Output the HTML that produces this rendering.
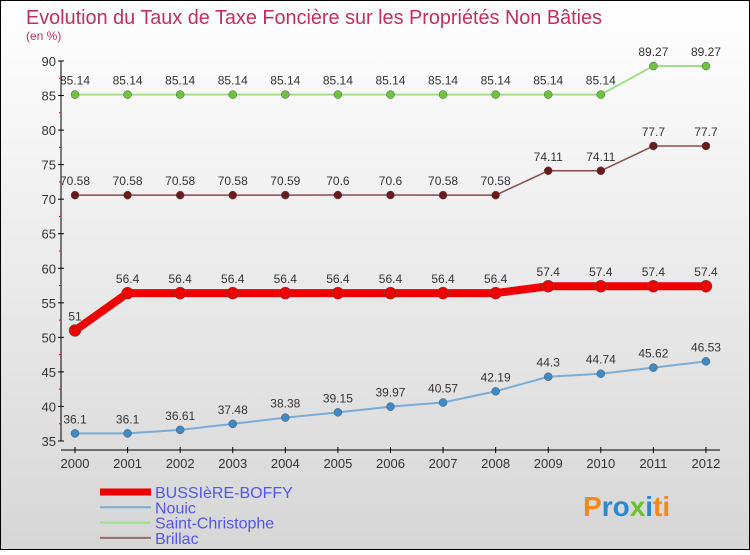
<!DOCTYPE html>
<html><head><meta charset="utf-8"><style>
body{margin:0;width:750px;height:550px;overflow:hidden;font-family:"Liberation Sans",sans-serif}
</style></head><body>
<svg width="750" height="550" xmlns="http://www.w3.org/2000/svg">
<defs><linearGradient id="bg" x1="0" y1="0" x2="0" y2="1"><stop offset="0" stop-color="#ffffff"/><stop offset="1" stop-color="#d6d6d6"/></linearGradient></defs>
<rect x="0.5" y="0.5" width="749" height="549" fill="url(#bg)" stroke="#000"/>
<text x="26" y="24" font-size="20" fill="#c0305a" textLength="576" lengthAdjust="spacingAndGlyphs">Evolution du Taux de Taxe Foncière sur les Propriétés Non Bâties</text>
<text x="26" y="40" font-size="12" fill="#c0305a">(en %)</text>
<g id="axes"></g><g id="series"></g><g id="legend"></g>
<text x="583" y="516" font-size="28" font-weight="bold"><tspan fill="#f08a1c">P</tspan><tspan fill="#2a8ad0">ro</tspan><tspan fill="#6cc02a">x</tspan><tspan fill="#2a8ad0">i</tspan><tspan fill="#f08a1c">ti</tspan></text>
</svg>
<script>
const years=[2000,2001,2002,2003,2004,2005,2006,2007,2008,2009,2010,2011,2012];
const yTicks=[35,40,45,50,55,60,65,70,75,80,85,90];
const bussiere=[51,56.4,56.4,56.4,56.4,56.4,56.4,56.4,56.4,57.4,57.4,57.4,57.4];
const nouic=[36.1,36.1,36.61,37.48,38.38,39.15,39.97,40.57,42.19,44.3,44.74,45.62,46.53];
const stchris=[85.14,85.14,85.14,85.14,85.14,85.14,85.14,85.14,85.14,85.14,85.14,89.27,89.27];
const brillac=[70.58,70.58,70.58,70.58,70.59,70.6,70.6,70.58,70.58,74.11,74.11,77.7,77.7];
const labels={b:["51","56.4","56.4","56.4","56.4","56.4","56.4","56.4","56.4","57.4","57.4","57.4","57.4"],
n:["36.1","36.1","36.61","37.48","38.38","39.15","39.97","40.57","42.19","44.3","44.74","45.62","46.53"],
s:["85.14","85.14","85.14","85.14","85.14","85.14","85.14","85.14","85.14","85.14","85.14","89.27","89.27"],
r:["70.58","70.58","70.58","70.58","70.59","70.6","70.6","70.58","70.58","74.11","74.11","77.7","77.7"]};
const NS="http://www.w3.org/2000/svg";
const xs=i=>75+i*52.58;
const ys=v=>441-(v-35)*(380/55);
function mk(t,a,p){const e=document.createElementNS(NS,t);for(const k in a)e.setAttribute(k,a[k]);p.appendChild(e);return e;}
const ax=document.getElementById('axes');
let l=mk('line',{x1:61,y1:61,x2:61,y2:441,stroke:'#000'},ax);


yTicks.forEach(v=>{const y=ys(v);
 mk('line',{x1:58,y1:y,x2:64,y2:y,stroke:'#000'},ax);
 const t=mk('text',{x:56,y:y+5,'font-size':13,fill:'#333','text-anchor':'end'},ax);t.textContent=v;
 
 
 if(v<90){const m=ys(v+2.5);mk('line',{x1:59,y1:m,x2:61,y2:m,stroke:'#f00'},ax);}
});
let xa=mk('line',{x1:61,y1:450,x2:720,y2:450,stroke:'#000'},ax);


years.forEach((yr,i)=>{const x=xs(i);
 mk('line',{x1:x,y1:447,x2:x,y2:453,stroke:'#000'},ax);
 const t=mk('text',{x:x,y:468,'font-size':13,fill:'#333','text-anchor':'middle'},ax);t.textContent=yr;
 
 
});
const sg=document.getElementById('series');
function series(vals,labs,color,w,dot,dr,name){
 const g=mk('g',{},sg);
 
 
 mk('polyline',{points:vals.map((v,i)=>xs(i)+','+ys(v)).join(' '),fill:'none',stroke:color,'stroke-width':w,'stroke-linejoin':'round'},g);
 vals.forEach((v,i)=>{const c=mk('circle',{cx:xs(i),cy:ys(v),r:dr,fill:dot,stroke:'#555','stroke-width':0.5},g);
  
  
  const t=mk('text',{x:xs(i),y:ys(v)-10,'font-size':12,fill:'#333','text-anchor':'middle'},g);t.textContent=labs[i];
  
  });
}
series(stchris,labels.s,'#9ee08a',2,'#6cc43a',4,'series-saint-christophe');
series(brillac,labels.r,'#8b4a4a',1.5,'#6a1a1a',4,'series-brillac');
series(nouic,labels.n,'#79acd6',2,'#3d8ac8',4,'series-nouic');
series(bussiere,labels.b,'#ee0000',8,'#ee0000',6,'series-bussiere-boffy');
const lg=document.getElementById('legend');
[['BUSSIèRE-BOFFY','#ee0000',7],['Nouic','#79acd6',2],['Saint-Christophe','#9ee08a',2],['Brillac','#9a6a6a',2]].forEach((d,i)=>{
 const y=492+i*15.3;
 const g=mk('g',{},lg);
 
 
 mk('line',{x1:100,y1:y,x2:151,y2:y,stroke:d[1],'stroke-width':d[2]},g);
 const t=mk('text',{x:155,y:y+6,'font-size':16,fill:'#5555ee'},g);t.textContent=d[0];
});
</script>
</body></html>
